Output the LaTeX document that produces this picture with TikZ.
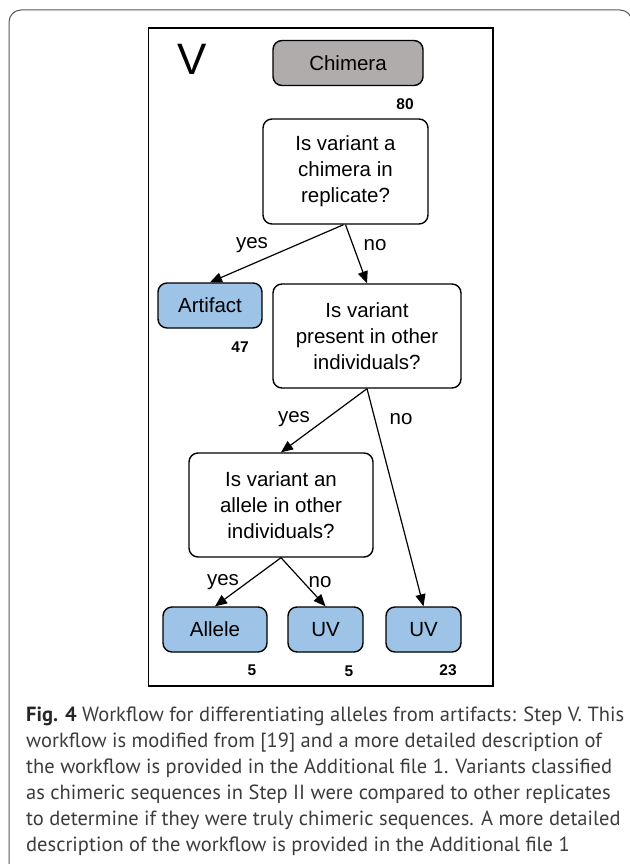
\documentclass[tikz,border=0pt]{standalone}
\usepackage{xcolor}
\usepackage{fontspec}
\setmainfont{Liberation Sans}
\newfontfamily\capfont{PT Sans}
\usetikzlibrary{arrows.meta,positioning}
\definecolor{chimgray}{HTML}{B0ACAB}
\definecolor{resblue}{HTML}{9DC3E6}
\definecolor{capgray}{HTML}{3C3C3C}

\begin{document}
\begin{tikzpicture}[x=1pt,y=-1pt,
    box/.style={draw, line width=1.4pt, rounded corners=9pt, minimum height=45pt,
        inner sep=0pt, font=\fontsize{20.5}{26}\selectfont},
    result/.style={box, fill=resblue},
    question/.style={box, fill=white, minimum height=104pt, align=center},
    count/.style={font=\bfseries\fontsize{15.5}{15.5}\selectfont},
    lbl/.style={font=\fontsize{20.5}{20.5}\selectfont},
    flow/.style={-{Triangle[length=12pt,width=10pt]}, line width=1.2pt}]
    \useasboundingbox (0,0) rectangle (629,864);
    \draw[gray!70!black, line width=1pt, rounded corners=12pt] (9,10) rectangle (632,876);
    \draw[line width=1.5pt] (148.5,28) rectangle (493,686);

    \node[font=\fontsize{44}{44}\selectfont] (stepv) at (192,59) {V};
    \node[box, fill=chimgray, minimum width=150pt] (chimera) at (348,63) {Chimera};
    \node[count] (n80) at (405,104) {80};
    \node[question, minimum width=165pt, minimum height=105pt] (q1) at (345.5,171.5) {Is variant a\\chimera in\\replicate?};
    \node[result, minimum width=104pt] (artifact) at (210,305.5) {Artifact};
    \node[count] (n47) at (240,347) {47};
    \node[question, minimum width=188pt] (q2) at (367,336) {Is variant\\present in other\\individuals?};
    \node[question, minimum width=184pt] (q3) at (281,505) {Is variant an\\allele in other\\individuals?};
    \node[result, minimum width=104pt] (allele) at (215,629.5) {Allele};
    \node[result, minimum width=75pt] (uva) at (325.5,629.5) {UV};
    \node[result, minimum width=75pt] (uvb) at (423.5,629.5) {UV};
    \node[count] (n5a) at (252,670) {5};
    \node[count] (n5b) at (349,671) {5};
    \node[count] (n23) at (448,670) {23};

    \draw[flow] ([xshift=-2pt]q1.south) -- (artifact.north);
    \draw[flow] (q1.south) -- (q2.north);
    \draw[flow] (q2.south) -- (q3.north);
    \draw[flow] (q2.south) -- (uvb.north);
    \draw[flow] (q3.south) -- (allele.north);
    \draw[flow] (q3.south) -- (uva.north);

    \node[lbl] (yes1) at (252,245) {yes};
    \node[lbl] (no1) at (375,245) {no};
    \node[lbl] (yes2) at (294,419) {yes};
    \node[lbl] (no2) at (401,419) {no};
    \node[lbl] (yes3) at (223,582) {yes};
    \node[lbl] (no3) at (320,582) {no};

    \node[anchor=base west, inner sep=0pt, align=left, text=capgray,
        font=\capfont\fontsize{20.5}{26}\selectfont] (caption) at (26,851)
        {{\bfseries\color{black!85}Fig. 4} Workflow for differentiating alleles from artifacts: Step V. This\\
        workflow is modified from [19] and a more detailed description of\\
        the workflow is provided in the Additional file 1. Variants classified\\
        as chimeric sequences in Step II were compared to other replicates\\
        to determine if they were truly chimeric sequences. A more detailed\\
        description of the workflow is provided in the Additional file 1};
\end{tikzpicture}
\end{document}
